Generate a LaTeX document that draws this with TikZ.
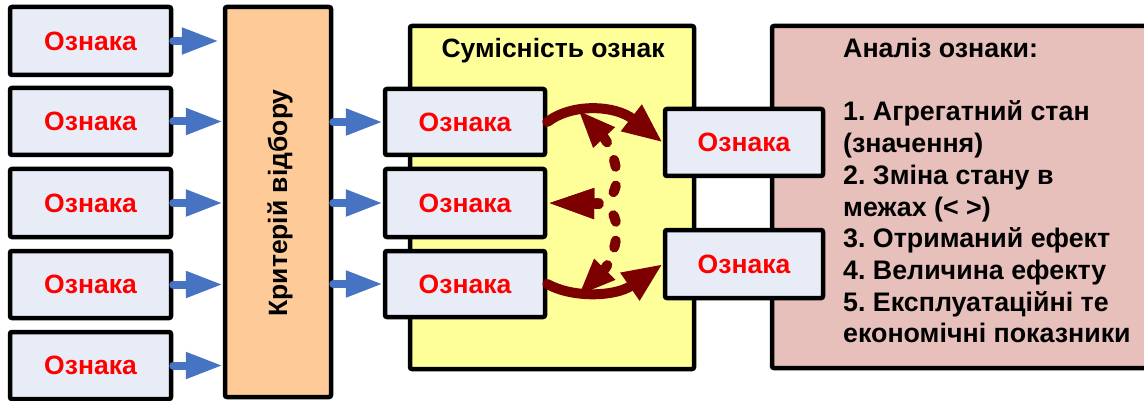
\documentclass[tikz,border=0pt]{standalone}
\usepackage{fontspec}
\setmainfont{Liberation Sans}
\usetikzlibrary{arrows.meta}
\definecolor{boxfill}{HTML}{E7ECF7}
\definecolor{critfill}{HTML}{FECB98}
\definecolor{compatfill}{HTML}{FFFF9A}
\definecolor{anafill}{HTML}{E7C0BC}
\definecolor{arrblue}{HTML}{4674C2}
\definecolor{maroon}{HTML}{7C0000}
\begin{document}
\frenchspacing
\begin{tikzpicture}[x=1pt,y=-1pt,
  feat/.style={draw=black, line width=4.5pt, fill=boxfill, rounded corners=2pt,
    minimum width=160pt, minimum height=67pt, inner sep=0pt,
    font=\fontsize{26.5}{30}\selectfont\bfseries, text=red},
  bigbox/.style={draw=black, line width=4.5pt, rounded corners=2pt, inner sep=0pt},
  bluearr/.style={draw=arrblue, line width=8pt, line cap=round,
    -{Triangle[length=37pt,width=25pt]}},
  msolid/.style={draw=maroon, line width=10pt, line cap=round,
    -{Triangle[length=40pt,width=31pt]}},
  mdash/.style={draw=maroon, line width=10pt, line cap=round, dash pattern=on 7pt off 19pt,
    {Triangle[length=47pt,width=28pt]}-{Triangle[length=38pt,width=27pt]}},
  anatext/.style={anchor=base west, inner sep=0pt, font=\fontsize{26.8}{30}\selectfont\bfseries},
  hdr/.style={inner sep=0pt, font=\fontsize{26.5}{30}\selectfont\bfseries}]
\useasboundingbox (0,0) rectangle (1144,401);
\clip (0,0) rectangle (1144,401);

% group boxes
\node[bigbox, fill=compatfill, minimum width=284pt, minimum height=343pt] (compat) at (552,197.5) {};
\node[bigbox, fill=anafill, minimum width=392pt, minimum height=342pt] (ana) at (968,197) {};

% left features
\node[feat, minimum width=161pt, minimum height=68pt] (L1) at (90.5,41) {Ознака};
\node[feat, minimum width=161pt, minimum height=67pt] (L2) at (90.5,121.5) {Ознака};
\node[feat, minimum width=161pt, minimum height=68pt] (L3) at (90.5,203) {Ознака};
\node[feat, minimum width=161pt, minimum height=67pt] (L4) at (90.5,284.5) {Ознака};
\node[feat, minimum width=161pt, minimum height=67pt] (L5) at (90.5,365.5) {Ознака};

% criterion
\node[bigbox, fill=critfill, minimum width=106pt, minimum height=390pt] (crit) at (278,202) {};
\node[hdr, rotate=90] (critlabel) at (280,203) {Критерій відбору};

% middle features
\node[feat, minimum height=66pt] (M1) at (465,122) {Ознака};
\node[feat, minimum height=68pt] (M2) at (465,203) {Ознака};
\node[feat, minimum height=66pt] (M3) at (465,284) {Ознака};

% right features
\node[feat, minimum width=158pt, minimum height=67pt] (D) at (744,142.5) {Ознака};
\node[feat, minimum width=158pt, minimum height=68pt] (E) at (744,264) {Ознака};

% titles
\node[hdr, anchor=base] (compattitle) at (553,58) {Сумісність ознак};

% blue arrows
\draw[bluearr] (L1.east) -- ([xshift=-4pt]L1.east -| crit.west);
\draw[bluearr] (L2.east) -- (L2.east -| crit.west);
\draw[bluearr] (L3.east) -- (L3.east -| crit.west);
\draw[bluearr] (L4.east) -- (L4.east -| crit.west);
\draw[bluearr] (L5.east) -- (L5.east -| crit.west);
\draw[bluearr] (crit.east |- M1.west) -- (M1.west);
\draw[bluearr] (crit.east |- M2.west) -- (M2.west);
\draw[bluearr] (crit.east |- M3.west) -- (M3.west);

% dashed compatibility arrows
\coordinate (t1) at (578,110);
\coordinate (t2) at (578,296);
\draw[mdash] (M2.east) .. controls (632,204) and (614,148) .. (t1);
\draw[mdash] (M2.east) .. controls (632,204) and (614,260) .. (t2);

% solid arrows
\draw[msolid] (M1.east) .. controls (572,103) and (615,105) .. (D.west);
\draw[msolid] (M3.east) .. controls (572,298) and (615,297) .. (E.west);

% analysis text
\node[anatext] (a0) at (843,57.5) {Аналіз ознаки:};
\node[anatext] (a1) at (843,120.9) {1. Агрегатний стан};
\node[anatext] (a2) at (843,152.6) {(значення)};
\node[anatext] (a3) at (843,184.3) {2. Зміна стану в};
\node[anatext] (a4) at (843,216.0) {межах (< >)};
\node[anatext] (a5) at (843,247.7) {3. Отриманий ефект};
\node[anatext] (a6) at (843,279.4) {4. Величина ефекту};
\node[anatext] (a7) at (843,311.1) {5. Експлуатаційні те};
\node[anatext] (a8) at (843,342.8) {економічні показники};
\end{tikzpicture}
\end{document}
